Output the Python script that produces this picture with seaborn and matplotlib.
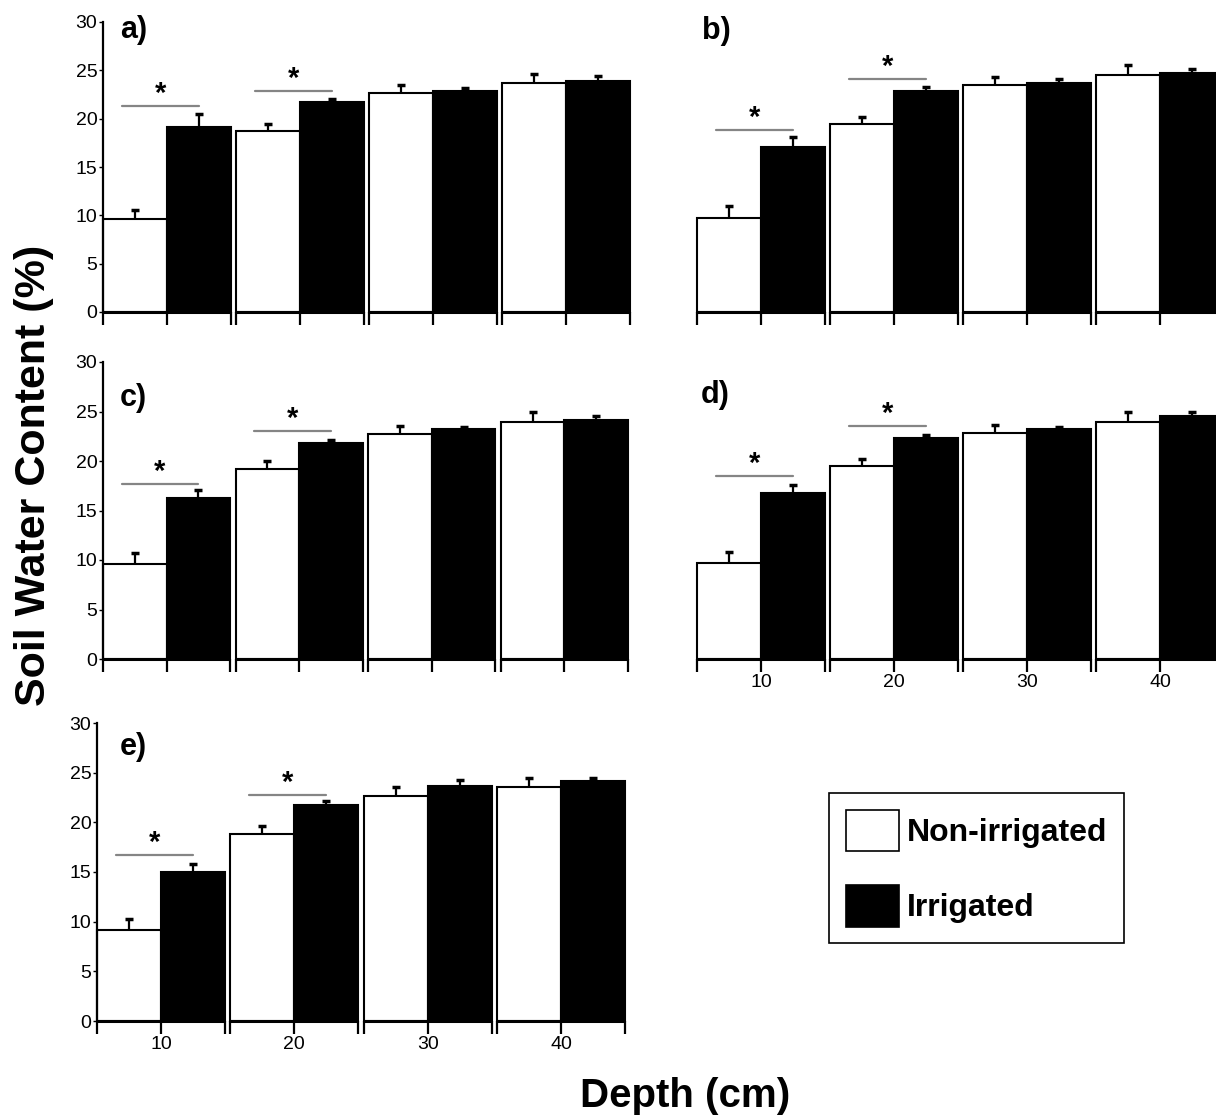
import matplotlib.pyplot as plt
import pandas as pd
import seaborn as sns
from matplotlib.patches import Patch

sns.set_style("ticks")
plt.rcParams["font.family"] = ["Liberation Sans", "DejaVu Sans"]
plt.rcParams["text.color"] = "black"
plt.rcParams["xtick.color"] = "black"
plt.rcParams["ytick.color"] = "black"
plt.rcParams["axes.edgecolor"] = "black"

# -----------------------------
# Data
# -----------------------------
depths = ["10", "20", "30", "40"]
treatments = ["Non-irrigated", "Irrigated"]

a_non = [9.6, 18.7, 22.7, 23.7]
a_non_se = [1.0, 0.7, 0.8, 0.9]
a_irr = [19.1, 21.7, 22.9, 23.9]
a_irr_se = [1.4, 0.3, 0.3, 0.5]
a_sig = [21.3, 22.9]

b_non = [9.7, 19.5, 23.5, 24.5]
b_non_se = [1.3, 0.7, 0.8, 1.1]
b_irr = [17.1, 22.9, 23.7, 24.7]
b_irr_se = [1.0, 0.4, 0.4, 0.4]
b_sig = [18.8, 24.1]

c_non = [9.6, 19.2, 22.7, 23.9]
c_non_se = [1.1, 0.8, 0.8, 1.0]
c_irr = [16.3, 21.8, 23.2, 24.1]
c_irr_se = [0.8, 0.3, 0.2, 0.4]
c_sig = [17.7, 23.0]

d_non = [9.7, 19.5, 22.8, 23.9]
d_non_se = [1.1, 0.7, 0.8, 1.0]
d_irr = [16.8, 22.3, 23.2, 24.5]
d_irr_se = [0.8, 0.3, 0.2, 0.4]
d_sig = [18.5, 23.5]

e_non = [9.2, 18.8, 22.7, 23.6]
e_non_se = [1.05, 0.8, 0.9, 0.9]
e_irr = [14.95, 21.7, 23.7, 24.2]
e_irr_se = [0.85, 0.4, 0.6, 0.3]
e_sig = [16.7, 22.8]

W, H = 1216, 1116
TICKFONT = ["Liberation Sans Narrow", "Liberation Sans"]


def px_rect(left, right, top, bottom):
    return [left / W, 1 - bottom / H, (right - left) / W, (bottom - top) / H]


def draw_panel(ax, label, lab_x, lab_y, non, non_se, irr, irr_se, sig,
               yaxis, xlabels):
    df = pd.DataFrame({
        "depth": depths * 2,
        "swc": non + irr,
        "treatment": [treatments[0]] * 4 + [treatments[1]] * 4,
    })
    sns.barplot(data=df, x="depth", y="swc", hue="treatment",
                order=depths, hue_order=treatments,
                palette=["white", "black"], edgecolor="black",
                linewidth=1.5, width=0.96, errorbar=None,
                legend=False, ax=ax)

    # one-sided (upper) error bars
    for cont, se in zip(ax.containers, [non_se, irr_se]):
        xs = [p.get_x() + p.get_width() / 2 for p in cont]
        hs = [p.get_height() for p in cont]
        eb = ax.errorbar(xs, hs, yerr=[[0] * len(se), se], fmt="none",
                         ecolor="black", elinewidth=1.6, capsize=3,
                         capthick=2.5, zorder=4)
        eb[1][0].set_visible(False)

    ax.set_xlim(-0.48, 3.48)
    ax.set_ylim(0, 30)
    ax.set_xlabel("")
    ax.set_ylabel("")

    # broken x axis, one segment per depth
    ax.spines[["top", "right", "bottom"]].set_visible(False)
    for g in range(len(depths)):
        ax.plot([g - 0.48, g + 0.48], [0, 0], color="black", lw=2.2,
                clip_on=False, solid_capstyle="butt", zorder=5)
    ax.set_xticks(range(len(depths)))
    ax.set_xticks([g + s for g in range(len(depths)) for s in (-0.48, 0.48)],
                  minor=True)
    ax.tick_params(axis="x", which="both", direction="out", length=9,
                   width=1.6, color="black", pad=2)
    if xlabels:
        ax.set_xticklabels(depths, fontsize=14, family=TICKFONT)
    else:
        ax.set_xticklabels([])

    if yaxis:
        ax.spines["left"].set_linewidth(1.6)
        ax.set_yticks(range(0, 31, 5))
        ax.set_yticklabels([str(v) for v in range(0, 31, 5)], fontsize=14,
                           family=TICKFONT)
        ax.tick_params(axis="y", direction="out", length=3, width=1, pad=1)
    else:
        ax.spines["left"].set_visible(False)
        ax.tick_params(axis="y", left=False, labelleft=False)

    # significance marks
    for i, h in enumerate(sig):
        ax.plot([i - 0.34, i + 0.24], [h, h], color="#858585", lw=1.6)
        ax.text(i - 0.05, h - 0.2, "*", ha="center", va="bottom",
                fontsize=21, fontweight="bold")

    ax.text(lab_x, lab_y, label, ha="left", va="center", fontsize=22,
            fontweight="bold")
    for p in ax.patches:
        p.set_clip_on(False)


fig = plt.figure(figsize=(W / 100, H / 100), dpi=100)

ax_a = fig.add_axes(px_rect(103, 630, 22, 312))
ax_b = fig.add_axes(px_rect(697, 1224, 22, 312))
ax_c = fig.add_axes(px_rect(103, 628, 362, 659))
ax_d = fig.add_axes(px_rect(697, 1224, 362, 659))
ax_e = fig.add_axes(px_rect(97, 625, 723, 1021))

draw_panel(ax_a, "a)", -0.35, 29.2, a_non, a_non_se, a_irr, a_irr_se, a_sig,
           True, False)
draw_panel(ax_b, "b)", -0.44, 29.1, b_non, b_non_se, b_irr, b_irr_se, b_sig,
           False, False)
draw_panel(ax_c, "c)", -0.35, 26.4, c_non, c_non_se, c_irr, c_irr_se, c_sig,
           True, False)
draw_panel(ax_d, "d)", -0.45, 26.7, d_non, d_non_se, d_irr, d_irr_se, d_sig,
           False, True)
draw_panel(ax_e, "e)", -0.31, 27.6, e_non, e_non_se, e_irr, e_irr_se, e_sig,
           True, True)

fig.text(34 / W, 1 - 475 / H, "Soil Water Content (%)", rotation=90,
         ha="center", va="center", fontsize=31, fontweight="bold")
fig.text(685 / W, 1 - 1107 / H, "Depth (cm)", ha="center", va="baseline",
         fontsize=29, fontweight="bold")

handles = [Patch(facecolor="white", edgecolor="black", linewidth=1.2),
           Patch(facecolor="black", edgecolor="black", linewidth=1.2)]
leg = fig.legend(handles, treatments, loc="upper left",
                 bbox_to_anchor=(829 / W, 1 - 793 / H), borderaxespad=0,
                 prop={"size": 23, "weight": "bold"},
                 handlelength=1.66, handleheight=1.61, handletextpad=0.25,
                 labelspacing=1.08, borderpad=0.52, fancybox=False,
                 edgecolor="black", framealpha=1)
leg.get_frame().set_linewidth(1.2)

fig.savefig("out.png", dpi=100)
